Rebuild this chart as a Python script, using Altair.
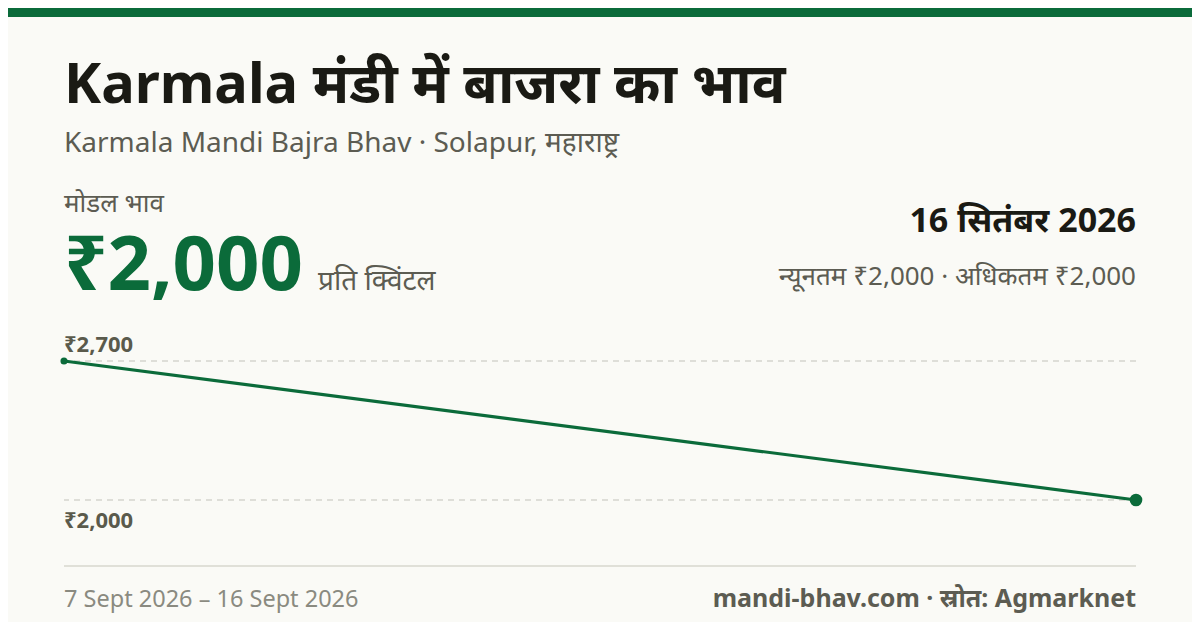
import pandas as pd
import altair as alt

# price series (modal price, Rs per quintal)
dates = ["2026-09-07", "2026-09-16"]
prices = [2700, 2000]

# texts
title = "Karmala मंडी में बाजरा का भाव"
subtitle = "Karmala Mandi Bajra Bhav · Solapur, महाराष्ट्र"
modal_label = "मोडल भाव"
modal_price = "₹2,000"
unit = "प्रति क्विंटल"
latest_date = "16 सितंबर 2026"
min_max = "न्यूनतम ₹2,000 · अधिकतम ₹2,000"
date_range = "7 Sept 2026 – 16 Sept 2026"
source = "mandi-bhav.com · स्रोत: Agmarknet"

GREEN = "#0b6b3a"
DARK = "#1a1a14"
GREY = "#5c5c52"
LIGHT = "#8a8a80"
BG = "#fafaf6"
FONT = "Noto Sans, Noto Sans Devanagari, sans-serif"

W, H = 1072, 139

df = pd.DataFrame({"date": dates, "price": prices})
levels = pd.DataFrame({"price": [max(prices), min(prices)]})
levels["label"] = levels["price"].map(lambda v: f"₹{v:,}")

x = alt.X("date:T", axis=None, scale=alt.Scale(nice=False))
y = alt.Y("price:Q", axis=None, scale=alt.Scale(domain=[min(prices), max(prices)], nice=False, zero=False))

grid = alt.Chart(levels).mark_rule(color="#c2c2ba", strokeDash=[6, 5], strokeWidth=1).encode(y=y)

line = alt.Chart(df).mark_line(color=GREEN, strokeWidth=3.2).encode(x=x, y=y)
first_pt = alt.Chart(df.iloc[[0]]).mark_circle(color=GREEN, opacity=1, size=50).encode(x=x, y=y)
last_pt = alt.Chart(df.iloc[[-1]]).mark_circle(color=GREEN, opacity=1, size=160).encode(x=x, y=y)

lbl_style = dict(font=FONT, fontSize=22, fontWeight="bold", color="#5a5a4c", align="left", baseline="alphabetic")
hi_lbl = alt.Chart(levels.iloc[[0]]).mark_text(dy=-9, **lbl_style).encode(
    x=alt.value(0), y=y, text="label:N")
lo_lbl = alt.Chart(levels.iloc[[1]]).mark_text(dy=28, **lbl_style).encode(
    x=alt.value(0), y=y, text="label:N")


def txt(s, xpos, ypos, size, color, weight="normal", align="left"):
    return alt.Chart(pd.DataFrame({"t": [s]})).mark_text(
        font=FONT, fontSize=size, fontWeight=weight, color=color, align=align, baseline="alphabetic"
    ).encode(text="t:N", x=alt.value(xpos), y=alt.value(ypos))


top_bar = alt.Chart(pd.DataFrame({"a": [0]})).mark_rect(color=GREEN).encode(
    x=alt.value(-56), x2=alt.value(1128), y=alt.value(-353), y2=alt.value(-344))
sep = alt.Chart(pd.DataFrame({"a": [0]})).mark_rule(color="#e0e0d8", strokeWidth=2).encode(y=alt.value(205))

texts = [
    txt(title, 0, -258, 56, DARK, "bold"),
    txt(subtitle, 0, -209, 28, GREY),
    txt(modal_label, 0, -149, 26, GREY),
    txt(modal_price, 0, -71, 76, GREEN, "bold"),
    txt(unit, 254, -71, 28, GREY),
    txt(latest_date, W, -129, 34, DARK, "bold", "right"),
    txt(min_max, W, -76, 26, GREY, "normal", "right"),
    txt(date_range, 0, 246, 23.5, LIGHT),
    txt(source, W, 246, 25, GREY, "bold", "right"),
]

chart = alt.layer(top_bar, sep, grid, line, first_pt, last_pt, hi_lbl, lo_lbl, *texts).properties(
    width=W, height=H,
    autosize=alt.AutoSizeParams(type="none"),
    padding={"left": 56, "top": 353, "right": 56, "bottom": 122},
    background=BG,
).configure_view(stroke=None)

chart.save("out.html", embed_options={"renderer": "svg", "actions": False})
